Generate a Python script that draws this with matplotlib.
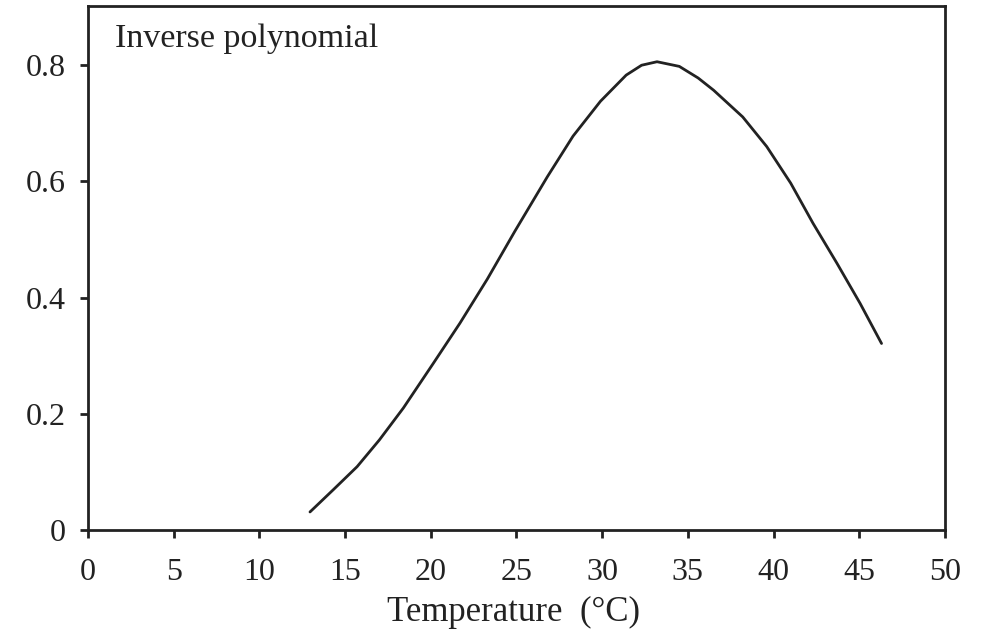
import matplotlib
matplotlib.use("Agg")
import matplotlib.pyplot as plt

# curve
temperature = [12.95, 14.3, 15.7, 17.0, 18.4, 20.15, 21.7, 23.3, 24.9, 26.8,
               28.3, 29.9, 31.4, 32.3, 33.2, 34.5, 35.6, 36.5, 38.2,
               39.6, 41.0, 42.3, 43.7, 45.05, 46.3]
rate = [0.031, 0.069, 0.109, 0.155, 0.210, 0.287, 0.356, 0.432, 0.514, 0.608,
        0.678, 0.738, 0.783, 0.800, 0.806, 0.798, 0.778, 0.757, 0.711,
        0.660, 0.597, 0.528, 0.459, 0.390, 0.321]

x_ticks = [0, 5, 10, 15, 20, 25, 30, 35, 40, 45, 50]
y_ticks = [0, 0.2, 0.4, 0.6, 0.8]
y_tick_labels = ["0", "0.2", "0.4", "0.6", "0.8"]

plt.rcParams['font.family'] = ['Liberation Serif', 'DejaVu Serif']
ink = '#222222'

fig = plt.figure(figsize=(9.87, 6.42), dpi=100)
ax = fig.add_axes([0.0892, 0.1745, 0.8682, 0.8162])

ax.plot(temperature, rate, color=ink, linewidth=2.0,
        solid_joinstyle='round', solid_capstyle='round')

ax.set_xlim(0, 50)
ax.set_ylim(0, 0.902)
ax.set_xticks(x_ticks)
ax.set_yticks(y_ticks)
ax.set_yticklabels(y_tick_labels)
ax.tick_params(direction='out', length=6, width=2, colors=ink, labelsize=23)
ax.tick_params(axis='x', pad=14)
ax.tick_params(axis='y', pad=10)
for spine in ax.spines.values():
    spine.set_linewidth(2)
    spine.set_color(ink)

ax.set_xlabel('Temperature  (°C)', fontsize=25, color=ink)
ax.xaxis.set_label_coords(0.497, -0.125)
ax.text(1.58, 0.831, 'Inverse polynomial', ha='left', va='baseline',
        fontsize=24.5, color=ink)

fig.savefig('out.png', dpi=100)
